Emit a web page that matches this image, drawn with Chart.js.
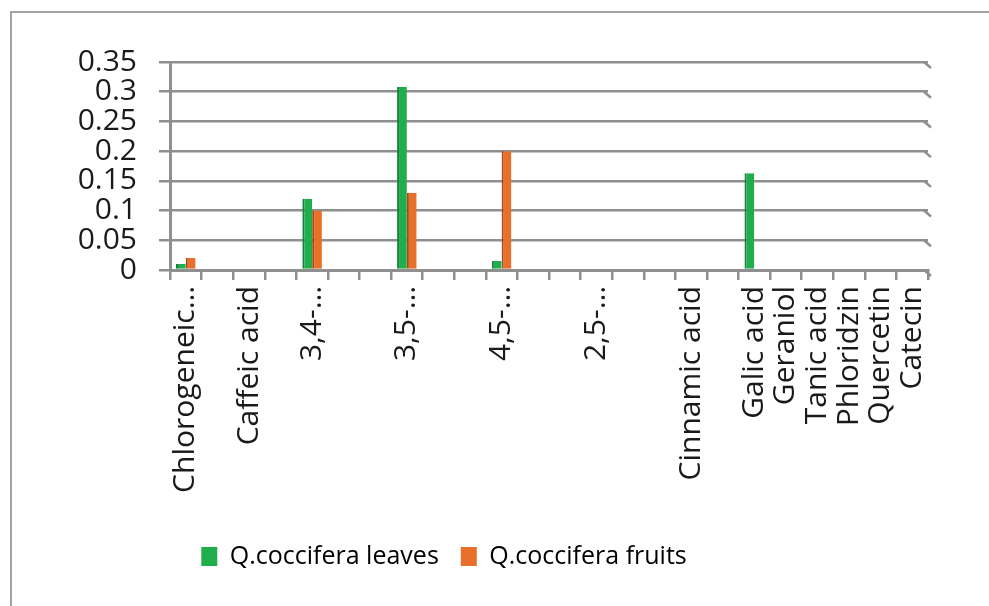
<!DOCTYPE html>
<html>
<head>
<meta charset="utf-8">
<script src="https://cdn.jsdelivr.net/npm/chart.js@4"></script>
<style>
  html, body { margin: 0; padding: 0; background: #fff; }
  #wrap { position: relative; width: 989px; height: 606px; }
  #frame { position: absolute; left: 10px; top: 11px; right: -5px; bottom: -5px;
           border-left: 2px solid #a3a3a3; border-top: 2px solid #a3a3a3; }
  canvas { position: absolute; left: 0; top: 0; }
</style>
</head>
<body>
<div id="wrap">
  <div id="frame"></div>
  <canvas id="myChart" width="989" height="606"></canvas>
</div>
<script>
// categories (blank names are empty rows of the source sheet)
const categories = [
    'Chlorogeneic…', '', 'Caffeic acid', '', '3,4-…', '', '', '3,5-…', '', '',
    '4,5-…', '', '', '2,5-…', '', '', 'Cinnamic acid', '', 'Galic acid', 'Geraniol',
    'Tanic acid', 'Phloridzin', 'Quercetin', 'Catecin'
];

const leaves = [
    0.01, null, 0.002, null, 0.12, null, null, 0.308, null, null,
    0.015, null, null, 0.002, null, null, 0.002, null, 0.163, 0,
    0.002, 0.002, 0.002, 0.002
];

const fruits = [
    0.02, null, 0.002, null, 0.1, null, null, 0.13, null, null,
    0.2, null, null, 0.002, null, null, 0.002, null, 0.002, 0,
    0.002, 0.002, 0.002, 0.002
];

const yTicks = ['0', '0.05', '0.1', '0.15', '0.2', '0.25', '0.3', '0.35'];

const gridGray = '#8f8f8f';
const fontFamily = "'Open Sans', 'Noto Sans', sans-serif";

// nudge the legend to the left like the original
const legendShift = {
    id: 'legendShift',
    afterLayout(chart) {
        const lg = chart.legend;
        if (lg) {
            lg.left -= 25;
            lg.right -= 25;
        }
    }
};

// small slanted ends on the gridlines (the original is a 3-D chart)
const wallEnds = {
    id: 'wallEnds',
    afterDraw(chart) {
        const y = chart.scales.y;
        const right = chart.chartArea.right;
        const c = chart.ctx;
        c.save();
        c.strokeStyle = gridGray;
        c.lineWidth = 2.5;
        y.ticks.forEach(t => {
            const py = y.getPixelForValue(t.value);
            c.beginPath();
            c.moveTo(right - 4, py);
            c.lineTo(right + 3, py + 6);
            c.stroke();
        });
        c.restore();
    }
};

const ctx = document.getElementById('myChart');

new Chart(ctx, {
    type: 'bar',
    data: {
        labels: categories,
        datasets: [{
            label: 'Q.coccifera leaves',
            data: leaves,
            backgroundColor: '#1fae4b',
            borderColor: '#14823a',
            borderWidth: {left: 2, right: 0, top: 0, bottom: 0},
            categoryPercentage: 0.62,
            barPercentage: 1.0
        }, {
            label: 'Q.coccifera fruits',
            data: fruits,
            backgroundColor: '#e8702a',
            borderColor: '#a8491a',
            borderWidth: {left: 2, right: 0, top: 0, bottom: 0},
            categoryPercentage: 0.62,
            barPercentage: 1.0
        }]
    },
    options: {
        responsive: false,
        animation: false,
        layout: {
            padding: {left: 10, right: 61, top: 62, bottom: 27}
        },
        plugins: {
            tooltip: {enabled: false},
            legend: {
                position: 'bottom',
                labels: {
                    boxWidth: 16,
                    boxHeight: 19,
                    padding: 22,
                    color: '#1a1a1a',
                    font: {family: fontFamily, size: 25},
                    generateLabels(chart) {
                        return chart.data.datasets.map((ds, i) => ({
                            text: ds.label,
                            fillStyle: ds.backgroundColor,
                            strokeStyle: ds.backgroundColor,
                            lineWidth: 0,
                            datasetIndex: i
                        }));
                    }
                }
            }
        },
        scales: {
            x: {
                grid: {
                    offset: true,
                    drawOnChartArea: false,
                    drawTicks: true,
                    tickLength: 10,
                    color: gridGray,
                    lineWidth: 2.5
                },
                border: {color: gridGray, width: 3},
                ticks: {
                    autoSkip: false,
                    maxRotation: 90,
                    minRotation: 90,
                    padding: 6,
                    color: '#1a1a1a',
                    font: {family: fontFamily, size: 30}
                },
                afterFit(scale) {
                    scale.height = 252;
                }
            },
            y: {
                min: 0,
                max: 0.35,
                ticks: {
                    stepSize: 0.05,
                    autoSkip: false,
                    padding: 22,
                    color: '#1a1a1a',
                    font: {family: fontFamily, size: 30, lineHeight: 1},
                    callback: v => yTicks[Math.round(v / 0.05)]
                },
                grid: {
                    color: gridGray,
                    lineWidth: 2.5,
                    tickLength: 11
                },
                border: {color: gridGray, width: 3},
                afterFit(scale) {
                    scale.width = 160;
                }
            }
        }
    },
    plugins: [legendShift, wallEnds]
});
</script>
</body>
</html>
